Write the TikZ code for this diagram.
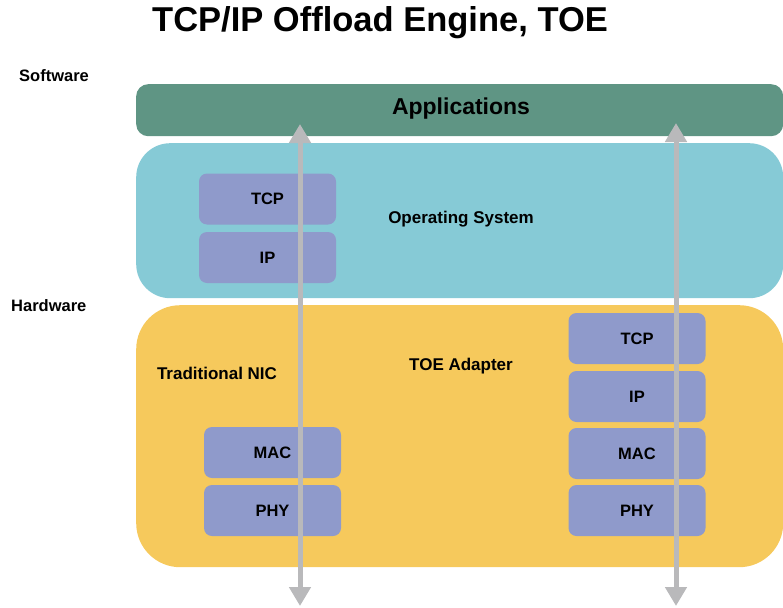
\documentclass[tikz,border=0pt]{standalone}
\usepackage{fontspec}
\setmainfont{Liberation Sans}
\usetikzlibrary{arrows.meta}
\definecolor{appgreen}{HTML}{5F9584}
\definecolor{osblue}{HTML}{86CAD6}
\definecolor{hwyellow}{HTML}{F6C95C}
\definecolor{layerblue}{HTML}{8F9ACB}
\definecolor{arrowgray}{HTML}{B9B9BB}
\tikzset{
  band/.style={draw=none, anchor=north west, inner sep=0pt},
  layer/.style={draw=none, fill=layerblue, rounded corners=8pt, minimum width=137pt, minimum height=51pt, inner sep=0pt,
    font=\bfseries\fontsize{16.5}{18}\selectfont},
  lbl/.style={font=\bfseries\fontsize{17}{19}\selectfont, inner sep=0pt},
  side/.style={font=\bfseries\fontsize{16.5}{18}\selectfont, inner sep=0pt, anchor=west},
  flow/.style={draw=arrowgray, line width=5pt, {Triangle[width=21pt,length=19pt]}-{Triangle[width=21pt,length=19pt]}}
}
\begin{document}
\begin{tikzpicture}[x=1pt,y=-1pt]
\useasboundingbox (0,0) rectangle (783,607);
% title
\node[inner sep=0pt, font=\bfseries\fontsize{34.5}{38}\selectfont] (title) at (380,23) {TCP/IP Offload Engine, TOE};
\node[side] (sw) at (19,76) {Software};
\node[side] (hw) at (11,306) {Hardware};
% bands
\node[band, fill=appgreen, rounded corners=12pt, minimum width=647pt, minimum height=52pt] (app) at (136,84) {};
\node[font=\bfseries\fontsize{23}{26}\selectfont, inner sep=0pt] (apptext) at (461,109) {Applications};
\node[band, fill=osblue, rounded corners=34pt, minimum width=647pt, minimum height=155pt] (os) at (136,143) {};
\node[lbl] (ostext) at (461,219) {Operating System};
\node[band, fill=hwyellow, rounded corners=44pt, minimum width=647pt, minimum height=262pt] (hwbox) at (136,305) {};
\node[lbl] (nic) at (217,373) {Traditional NIC};
\node[lbl] (toe) at (461,366) {TOE Adapter};
% OS stack
\node[layer] (ostcp) at (267.5,199) {TCP};
\node[layer] (osip) at (267.5,257.5) {IP};
% NIC stack
\node[layer] (nicmac) at (272.5,452.5) {MAC};
\node[layer] (nicphy) at (272.5,510.5) {PHY};
% TOE stack
\node[layer] (toetcp) at (637,338.5) {TCP};
\node[layer] (toeip) at (637,396.5) {IP};
\node[layer] (toemac) at (637,453.5) {MAC};
\node[layer] (toephy) at (637,510.5) {PHY};
% arrows
\coordinate (ltop) at (300,124);
\coordinate (lbot) at (300,606);
\coordinate (rtop) at (676,123);
\coordinate (rbot) at (676,606);
\draw[flow] (lbot) -- (ltop);
\draw[flow] (rbot) -- (rtop);
\end{tikzpicture}
\end{document}
